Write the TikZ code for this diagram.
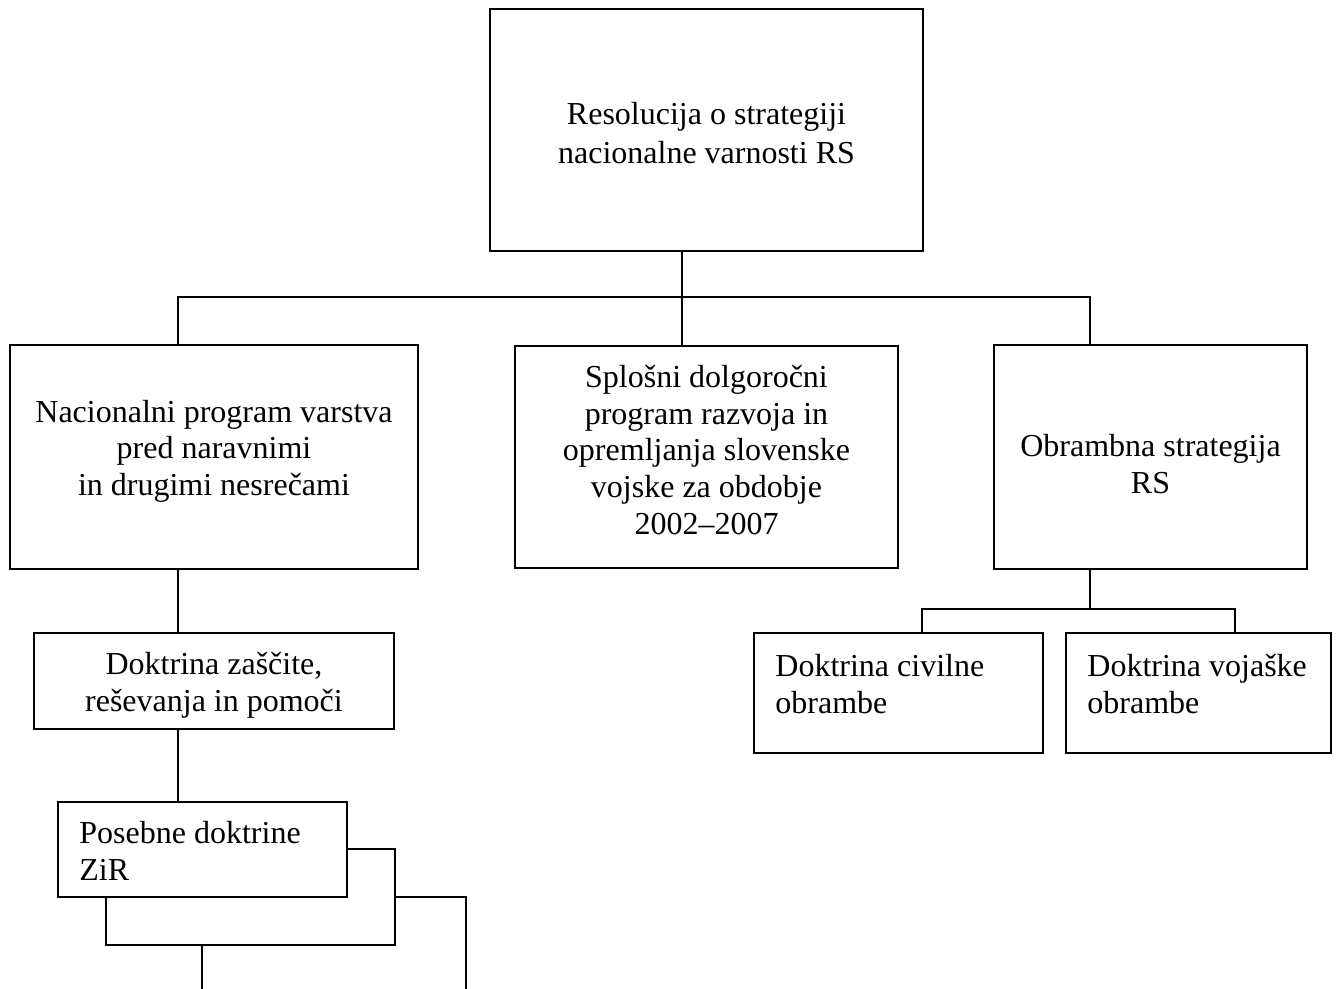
\documentclass[tikz,border=0pt]{standalone}
\usepackage{fontspec}
\setmainfont{Liberation Serif}
\begin{document}
\begin{tikzpicture}[x=0.5pt,y=-0.5pt,
  box/.style={draw,line width=0.9pt,inner sep=0pt,fill=white},
  txt/.style={font=\fontsize{16}{18.3}\selectfont,align=center,inner sep=0pt},
  ltxt/.style={font=\fontsize{16}{18.3}\selectfont,align=left,inner sep=0pt,anchor=north west},
  ln/.style={line width=0.9pt}]
\useasboundingbox (0,0) rectangle (1339,989);
\clip (0,0) rectangle (1339,989);
% boxes
\node[box,minimum width=216.5pt,minimum height=121pt] (top) at (706.5,130) {};
\node[box,minimum width=204pt,minimum height=112pt] (left) at (214,457) {};
\node[box,minimum width=191.5pt,minimum height=111pt] (mid) at (706.5,457) {};
\node[box,minimum width=156.5pt,minimum height=112pt] (right) at (1150.5,457) {};
\node[box,minimum width=180pt,minimum height=48pt] (zas) at (214,681) {};
\node[box,minimum width=144.5pt,minimum height=60pt] (civ) at (898.5,693) {};
\node[box,minimum width=132.5pt,minimum height=60pt] (voj) at (1198.5,693) {};
\node[box,minimum width=132pt,minimum height=71.5pt] (st3) at (334,968.5) {};
\node[box,minimum width=144.5pt,minimum height=48pt] (st2) at (250.5,897) {};
\node[box,minimum width=144.5pt,minimum height=47.5pt] (pos) at (202.5,849.5) {};
% texts
\node[txt,font=\fontsize{16}{19.8}\selectfont] (ttop) at (706.5,133) {Resolucija o strategiji\\nacionalne varnosti RS};
\node[txt] (tleft) at (214,451) {Nacionalni program varstva\\pred naravnimi\\in drugimi nesrečami};
\node[txt] (tmid) at (706.5,450) {Splošni dolgoročni\\program razvoja in\\opremljanja slovenske\\vojske za obdobje\\2002–2007};
\node[txt] (tright) at (1150.5,464) {Obrambna strategija\\RS};
\node[txt] (tzas) at (214,685) {Doktrina zaščite,\\reševanja in pomoči};
\node[ltxt] (tciv) at (775,654) {Doktrina civilne\\obrambe};
\node[ltxt] (tvoj) at (1087,654) {Doktrina vojaške\\obrambe};
\node[ltxt] (tpos) at (79,821) {Posebne doktrine\\ZiR};
% connectors
\coordinate (ja) at (682,297);
\coordinate (jl) at (178,297);
\coordinate (jr) at (1090,297);
\coordinate (jb) at (1090,609);
\coordinate (jc) at (922,609);
\coordinate (jd) at (1235,609);
\draw[ln] (ja |- top.south) -- (ja);
\draw[ln] (jl |- left.north) -- (jl) -- (jr) -- (jr |- right.north);
\draw[ln] (ja) -- (ja |- mid.north);
\draw[ln] (jl |- left.south) -- (jl |- zas.north);
\draw[ln] (jl |- zas.south) -- (jl |- pos.north);
\draw[ln] (jb |- right.south) -- (jb);
\draw[ln] (jc |- civ.north) -- (jc) -- (jd) -- (jd |- voj.north);
\end{tikzpicture}
\end{document}
